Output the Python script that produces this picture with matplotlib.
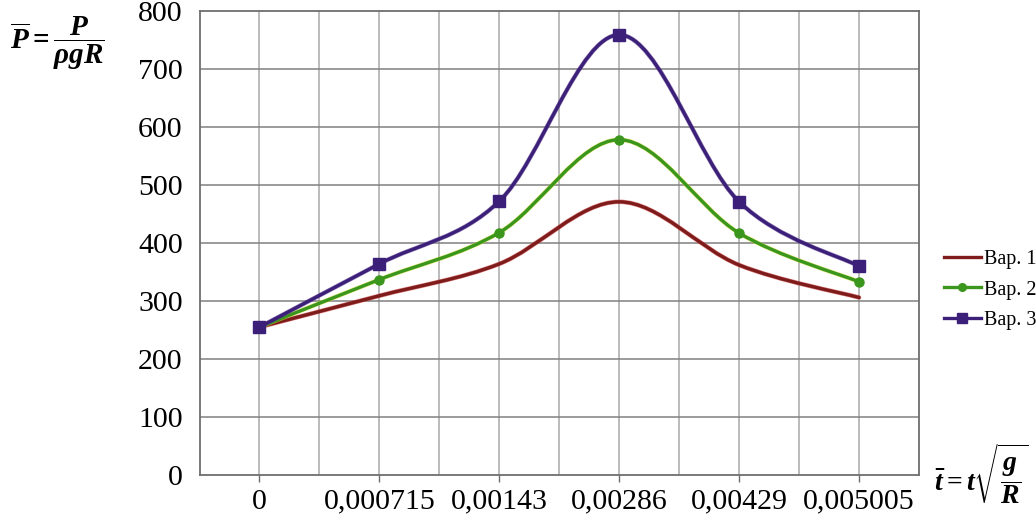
import matplotlib
matplotlib.use("Agg")
import matplotlib.pyplot as plt
from matplotlib.path import Path
from matplotlib.patches import PathPatch
from matplotlib.lines import Line2D
import matplotlib.patheffects as pe

plt.rcParams['font.family'] = ['Liberation Serif', 'DejaVu Serif']
plt.rcParams['mathtext.fontset'] = 'custom'
plt.rcParams['mathtext.it'] = 'Liberation Serif:italic:bold'
plt.rcParams['mathtext.rm'] = 'Liberation Serif:bold'
plt.rcParams['mathtext.bf'] = 'Liberation Serif:bold'

# data
t_labels = ['0', '0,000715', '0,00143', '0,00286', '0,00429', '0,005005']
var1 = [255, 309, 364, 471, 362, 306]
var2 = [255, 337, 418, 578, 417, 333]
var3 = [255, 364, 472, 759, 471, 360]
names = ['Вар. 1', 'Вар. 2', 'Вар. 3']


def smooth_path(xs, ys):
    # Excel-like smoothed line: cubic Bezier through every point
    n = len(xs)
    verts = [(xs[0], ys[0])]
    codes = [Path.MOVETO]
    for i in range(n - 1):
        i0 = max(i - 1, 0)
        i3 = min(i + 2, n - 1)
        c1 = (xs[i] + (xs[i + 1] - xs[i0]) / 6, ys[i] + (ys[i + 1] - ys[i0]) / 6)
        c2 = (xs[i + 1] - (xs[i3] - xs[i]) / 6, ys[i + 1] - (ys[i3] - ys[i]) / 6)
        verts += [c1, c2, (xs[i + 1], ys[i + 1])]
        codes += [Path.CURVE4] * 3
    return Path(verts, codes)


fig = plt.figure(figsize=(10.36, 5.16), dpi=100)
ax = fig.add_axes([0.1926, 0.0795, 0.6945, 0.8992])

x = list(range(len(t_labels)))
styles = [
    (var1, '#7e1c1c', '#c83030', None, 0),
    (var2, '#3a961c', '#d6dc30', 'o', 6.5),
    (var3, '#3c1f78', '#5a3a90', 's', 8),
]
handles = []
for k, (vals, col, glow, mk, ms) in enumerate(styles):
    patch = PathPatch(smooth_path(x, vals), fill=False, edgecolor=col, lw=2.4,
                      zorder=3 + k, capstyle='round', joinstyle='round')
    patch.set_path_effects([pe.Stroke(linewidth=3.2, foreground=glow, alpha=0.6), pe.Normal()])
    ax.add_patch(patch)
    if mk:
        ax.plot(x, vals, linestyle='none', marker=mk, ms=ms, color=col, zorder=6 + k)
    handles.append(Line2D([], [], color=col, lw=2.4, marker=mk, ms=ms - 1 if mk else 0))

ax.set_xlim(-0.5, 5.5)
ax.set_ylim(0, 800)
ax.set_yticks(range(0, 801, 100))
ax.set_xticks(x)
ax.set_xticklabels(t_labels)

for gx in [i * 0.5 - 0.5 for i in range(1, 12)]:
    ax.axvline(gx, color='#a8a8a8', lw=1.1, zorder=1)
for gy in range(100, 800, 100):
    ax.axhline(gy, color='#808080', lw=1.1, zorder=1)

for s in ax.spines.values():
    s.set_color('#6e6e6e')
    s.set_linewidth(1.3)

ax.tick_params(axis='x', length=5, width=1, color='#6e6e6e', pad=5, labelsize=21.5)
ax.tick_params(axis='y', length=0, pad=12, labelsize=21.5)

fig.legend(handles, names, loc='center left', bbox_to_anchor=(0.911, 0.438),
           frameon=False, fontsize=14.5, handlelength=1.85, handletextpad=0.15,
           labelspacing=0.55, borderpad=0, borderaxespad=0)

fig.text(0.010, 0.915, r'$\overline{P}=\dfrac{P}{\rho gR}$', fontsize=21,
         ha='left', va='center')
fig.text(0.902, 0.083, r'$\bar{t}=t\sqrt{\dfrac{g}{R}}$', fontsize=20,
         ha='left', va='center')

fig.savefig('out.png', dpi=100)
